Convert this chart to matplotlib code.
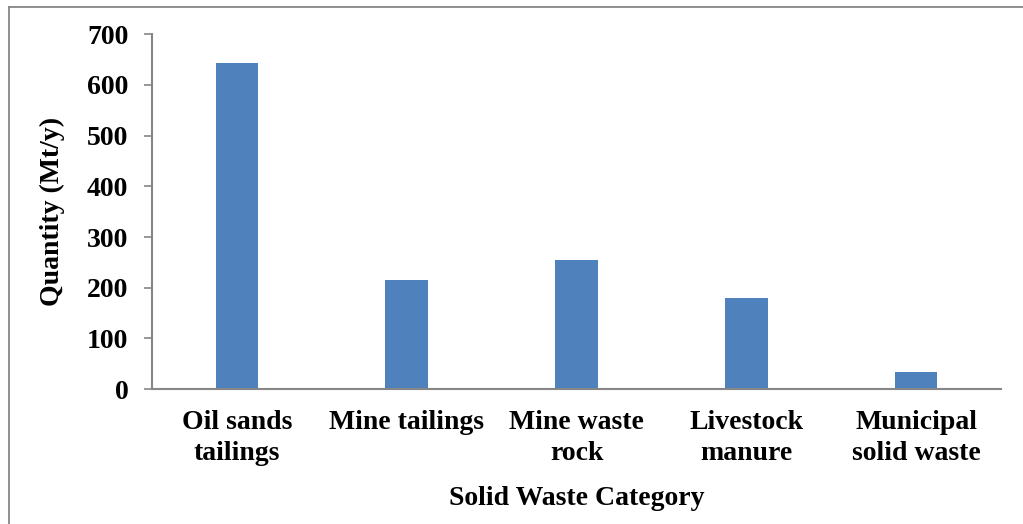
import matplotlib.pyplot as plt
from matplotlib.lines import Line2D

# solid waste quantities, Mt/y
categories = ['Oil sands\ntailings', 'Mine tailings', 'Mine waste\nrock',
              'Livestock\nmanure', 'Municipal\nsolid waste']
quantity = [644, 216, 255, 180, 33]
yticks = [0, 100, 200, 300, 400, 500, 600, 700]

plt.rcParams['font.family'] = ['Liberation Serif', 'DejaVu Serif']
plt.rcParams['font.weight'] = 'bold'

grey = '#868686'
fs = 20

fig = plt.figure(figsize=(10.23, 5.24), dpi=100)
ax = fig.add_axes([0.1486, 0.2576, 0.8299, 0.6769])

x = range(len(categories))
ax.bar(x, quantity, width=0.25, color='#4F81BD')

ax.set_xlim(-0.5, len(categories) - 0.5)
ax.set_ylim(0, 700)
ax.set_yticks(yticks)
ax.set_xticks(list(x))
ax.set_xticklabels(categories, fontsize=fs, fontweight='bold', linespacing=1.3)
ax.tick_params(axis='x', length=0, pad=15)
ax.tick_params(axis='y', length=6, width=1.2, color=grey, pad=11, labelsize=fs)
for lab in ax.get_yticklabels():
    lab.set_fontweight('bold')

for side in ['top', 'right']:
    ax.spines[side].set_visible(False)
for side in ['left', 'bottom']:
    ax.spines[side].set_color(grey)
    ax.spines[side].set_linewidth(1.5)

ax.set_ylabel('Quantity (Mt/y)', fontsize=fs, fontweight='bold', labelpad=16)
ax.set_xlabel('Solid Waste Category', fontsize=fs, fontweight='bold', labelpad=15)

# outer frame, top and left edges
fig.add_artist(Line2D([9 / 1023, 1], [1 - 7 / 524, 1 - 7 / 524],
                      transform=fig.transFigure, color=grey, lw=1.3))
fig.add_artist(Line2D([9 / 1023, 9 / 1023], [0, 1 - 7 / 524],
                      transform=fig.transFigure, color=grey, lw=1.3))

fig.savefig('out.png', dpi=100)
